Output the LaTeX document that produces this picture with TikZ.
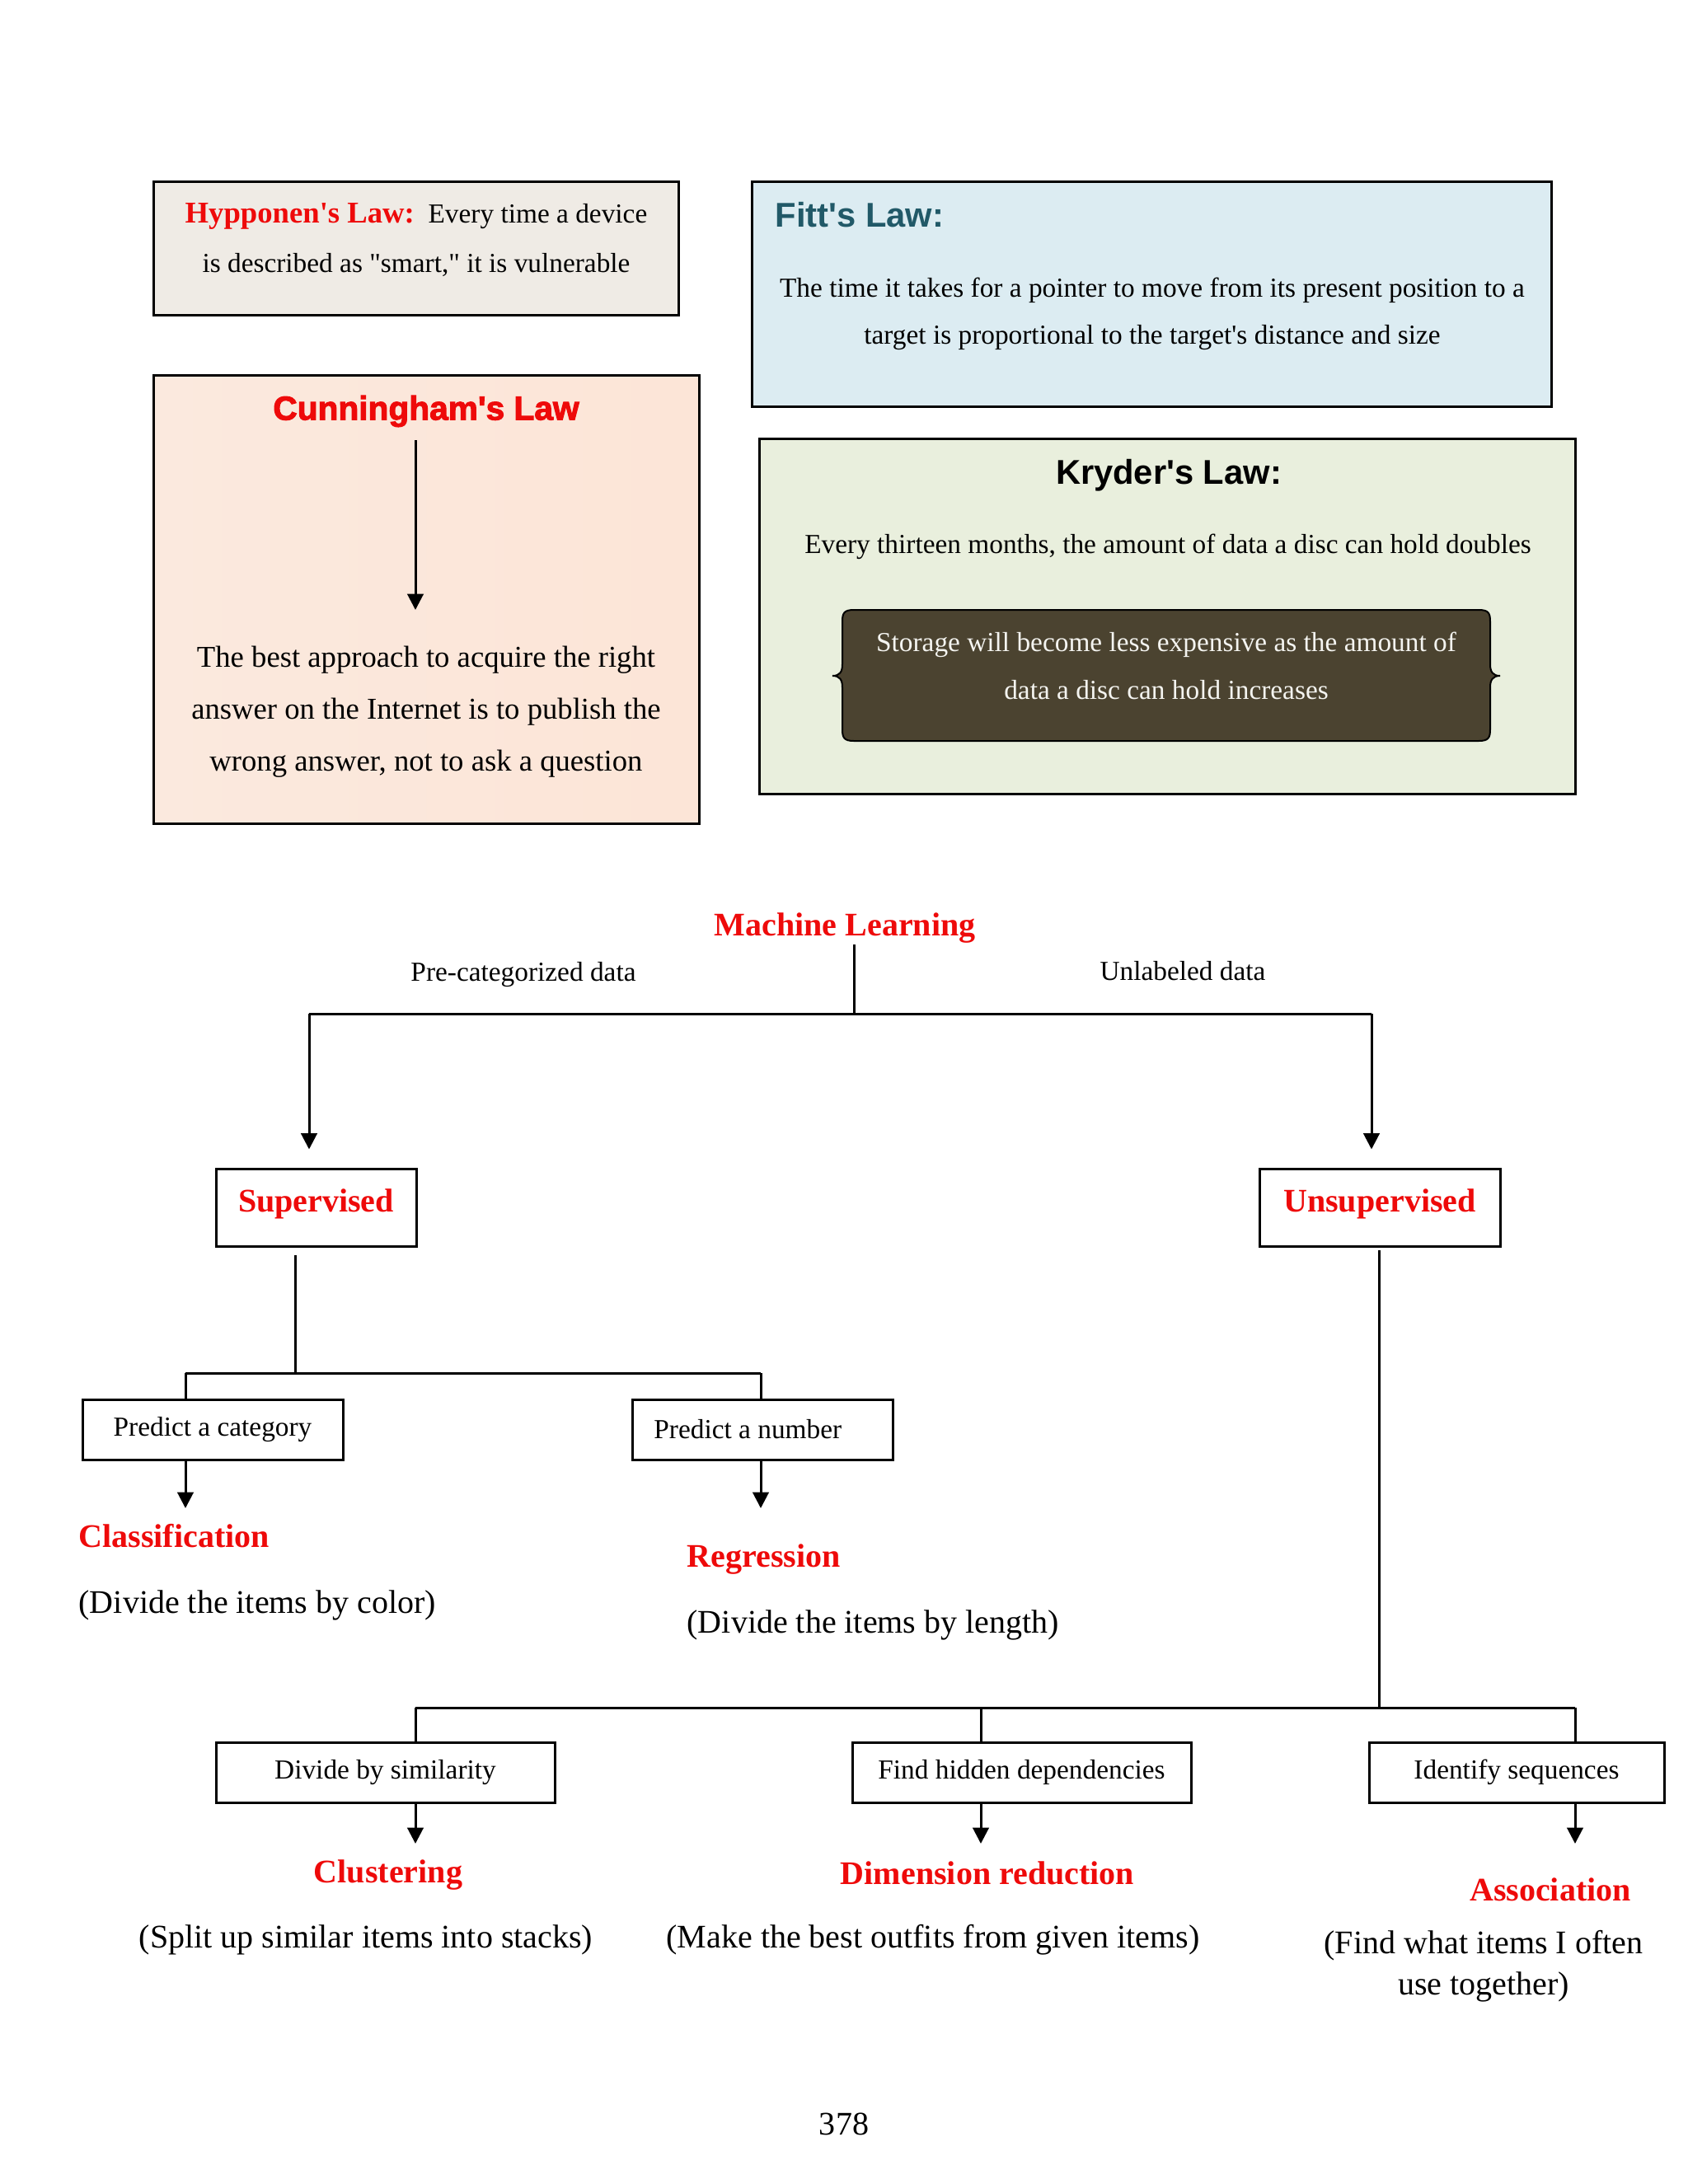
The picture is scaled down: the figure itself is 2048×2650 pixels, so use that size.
\documentclass[tikz,border=0pt]{standalone}
\usepackage{fontspec}
\setmainfont{Liberation Serif}[Ligatures=TeXOff]
\newfontfamily\sansfam{Liberation Sans}[Ligatures=TeXOff]
\newfontfamily\blacksans{Liberation Sans}[Ligatures=TeXOff,BoldFeatures={FakeBold=2.5}]
\usetikzlibrary{arrows.meta}
\definecolor{hypbg}{HTML}{EFEBE5}
\definecolor{fittbg}{HTML}{DCECF2}
\definecolor{cunbg}{HTML}{FCE5D7}
\definecolor{cunbgl}{HTML}{FBE9DE}
\definecolor{krybg}{HTML}{E9EFDD}
\definecolor{innerbg}{HTML}{4B4330}
\definecolor{innertx}{HTML}{F4F4F0}
\definecolor{fittc}{HTML}{215968}
\definecolor{mlred}{HTML}{EE0A0A}
\newcommand\pxu{0.10541mm}
\tikzset{
  lawbox/.style={draw=black, line width=0.9pt, rectangle, inner sep=0pt},
  mlbox/.style={draw=black, line width=0.9pt, rectangle, inner sep=0pt},
  conn/.style={line width=0.9pt},
  arr/.style={line width=0.9pt, -{Triangle[length=5.8pt,width=5.8pt]}},
  bodyten/.style={inner sep=0pt, align=center, font=\fontsize{10}{17.2}\selectfont},
  redlbl/.style={inner sep=0pt, text=mlred, font=\fontsize{12}{14}\selectfont\bfseries},
  paren/.style={inner sep=0pt, align=center, font=\fontsize{12}{15.1}\selectfont},
  boxtxt/.style={font=\fontsize{10}{12}\selectfont},
}
\begin{document}
\begin{tikzpicture}[x=0.10541mm, y=-0.10541mm]
\path[use as bounding box, fill=white] (0,0) rectangle (2048,2650);

% ---- law boxes ----
\node[lawbox, fill=hypbg, minimum width=637*\pxu, minimum height=162*\pxu] (hyp) at (504.5,301) {};
\node[lawbox, fill=fittbg, minimum width=970*\pxu, minimum height=273*\pxu] (fitt) at (1397,356.5) {};
\node[lawbox, left color=cunbgl, right color=cunbg, minimum width=662*\pxu, minimum height=544*\pxu] (cun) at (517,727) {};
\node[lawbox, fill=krybg, minimum width=990*\pxu, minimum height=431*\pxu] (kry) at (1416,747.5) {};

% Hypponen
\node[bodyten, font=\fontsize{10}{18.2}\selectfont] (hyptxt) at (505,291)
  {{\color{mlred}\fontsize{11}{18.2}\selectfont\bfseries Hypponen's Law:}\ \ Every time a device\\is described as "smart," it is vulnerable};

% Fitt
\node[inner sep=0pt, anchor=west, text=fittc, font=\sansfam\fontsize{12.5}{15}\selectfont\bfseries] (fitttitle) at (940,261) {Fitt's Law:};
\node[bodyten] (fitttxt) at (1398,381)
  {The time it takes for a pointer to move from its present position to a\\target is proportional to the target's distance and size};

% Cunningham
\node[inner sep=0pt, text=mlred, font=\blacksans\fontsize{12.2}{15}\selectfont\bfseries] (cuntitle) at (517,499) {Cunningham's Law};
\node[inner sep=0pt, align=center, font=\fontsize{11}{18.9}\selectfont] (cuntxt) at (517,864)
  {The best approach to acquire the right\\answer on the Internet is to publish the\\wrong answer, not to ask a question};
\coordinate (ca1) at (504,534);
\coordinate (ca2) at (504,740);
\draw[arr] (ca1) -- (ca2);

% Kryder
\node[inner sep=0pt, font=\sansfam\fontsize{12.5}{15}\selectfont\bfseries] (krytitle) at (1418,577) {Kryder's Law:};
\node[bodyten] (krytxt) at (1417,663) {Every thirteen months, the amount of data a disc can hold doubles};
\draw[fill=innerbg, draw=black, line width=0.6pt]
  (1036,740) -- (1794,740)
  .. controls (1806,740) and (1808,744) .. (1808,754) -- (1808,806)
  .. controls (1808,815) and (1811,820) .. (1820,820)
  .. controls (1811,820) and (1808,825) .. (1808,834) -- (1808,885)
  .. controls (1808,895) and (1806,899) .. (1794,899) -- (1036,899)
  .. controls (1024,899) and (1022,895) .. (1022,885) -- (1022,834)
  .. controls (1022,825) and (1019,820) .. (1010,820)
  .. controls (1019,820) and (1022,815) .. (1022,806) -- (1022,754)
  .. controls (1022,744) and (1024,740) .. (1036,740) -- cycle;
\node[bodyten, text=innertx] (innertxt) at (1415,808)
  {Storage will become less expensive as the amount of\\data a disc can hold increases};

% ---- Machine learning tree ----
\node[redlbl] (ml) at (1025,1126) {Machine Learning};
\node[bodyten] (pre) at (635,1183) {Pre-categorized data};
\node[bodyten] (unl) at (1435,1178) {Unlabeled data};

\node[mlbox, redlbl, draw=black, minimum width=243*\pxu, minimum height=94*\pxu] (sup) at (383.5,1465) {\raisebox{-1.5pt}[0pt][0pt]{Supervised}};
\node[mlbox, redlbl, draw=black, minimum width=292*\pxu, minimum height=94*\pxu] (uns) at (1674,1465) {\raisebox{-1.5pt}[0pt][0pt]{Unsupervised}};

\coordinate (mltop) at (1036,1146);
\coordinate (mlj) at (1036,1230);
\coordinate (jl) at (375,1230);
\coordinate (jr) at (1664,1230);
\draw[conn] (mltop) -- (mlj);
\draw[conn] (jl) -- (jr);
\draw[arr, shorten >=6.6pt] (jl) -- (jl |- sup.north);
\draw[arr, shorten >=6.6pt] (jr) -- (jr |- uns.north);

% supervised branch
\node[mlbox, boxtxt, minimum width=316*\pxu, minimum height=73*\pxu] (pcat) at (258,1734.5) {Predict a category};
\node[mlbox, boxtxt, minimum width=316*\pxu, minimum height=73*\pxu] (pnum) at (925,1734.5) {Predict a number\hspace*{10.6pt}};
\coordinate (sj0) at (358,1523);
\coordinate (sj) at (358,1666);
\coordinate (sl) at (225,1666);
\coordinate (sr) at (923,1666);
\draw[conn] (sj0) -- (sj);
\draw[conn] (sl) -- (sr);
\draw[conn] (sl) -- (sl |- pcat.north);
\draw[conn] (sr) -- (sr |- pnum.north);
\coordinate (clsarr) at (225,1830);
\coordinate (regarr) at (923,1830);
\draw[arr] (sl |- pcat.south) -- (clsarr);
\draw[arr] (sr |- pnum.south) -- (regarr);

\node[redlbl, anchor=west] (cls) at (95,1864) {Classification};
\node[paren, anchor=west] (clsd) at (95,1948) {(Divide the items by color)};
\node[redlbl, anchor=west] (reg) at (833,1892) {Regression};
\node[paren, anchor=west] (regd) at (833,1972) {(Divide the items by length)};

% unsupervised branch
\node[mlbox, boxtxt, minimum width=411*\pxu, minimum height=73*\pxu] (dsim) at (467.5,2150.5) {Divide by similarity};
\node[mlbox, boxtxt, minimum width=411*\pxu, minimum height=73*\pxu] (fhid) at (1239.5,2150.5) {Find hidden dependencies};
\node[mlbox, boxtxt, minimum width=358*\pxu, minimum height=73*\pxu] (iseq) at (1840,2150.5) {Identify sequences};
\coordinate (uj0) at (1673,1517);
\coordinate (uj) at (1673,2072);
\coordinate (ul) at (504,2072);
\coordinate (um) at (1190,2072);
\coordinate (ur) at (1911,2072);
\draw[conn] (uj0) -- (uj);
\draw[conn] (ul) -- (ur);
\draw[conn] (ul) -- (ul |- dsim.north);
\draw[conn] (um) -- (um |- fhid.north);
\draw[conn] (ur) -- (ur |- iseq.north);
\coordinate (cluarr) at (504,2237);
\coordinate (dimarr) at (1190,2237);
\coordinate (ascarr) at (1911,2237);
\draw[arr] (ul |- dsim.south) -- (cluarr);
\draw[arr] (um |- fhid.south) -- (dimarr);
\draw[arr] (ur |- iseq.south) -- (ascarr);

\node[redlbl] (clu) at (471,2275) {Clustering};
\node[redlbl] (dim) at (1198,2273) {Dimension reduction};
\node[redlbl] (asc) at (1881,2293) {Association};
\node[paren] (clud) at (444,2354) {(Split up similar items into stacks)};
\node[paren] (dimd) at (1132,2354) {(Make the best outfits from given items)};
\node[paren] (ascd) at (1800,2386) {(Find what items I often\\use together)};

\node[inner sep=0pt, font=\fontsize{12}{14}\selectfont] (page) at (1024,2577) {378};
\end{tikzpicture}
\end{document}
